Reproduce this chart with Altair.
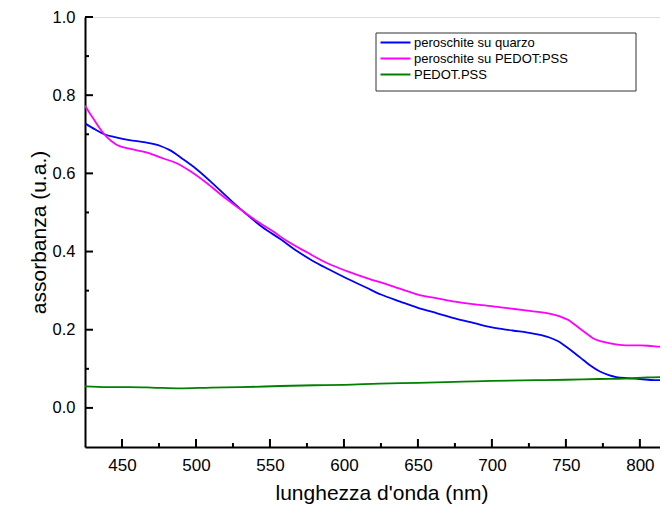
import altair as alt
import pandas as pd

# --- data ---
series_names = ["peroschite su quarzo", "peroschite su PEDOT:PSS", "PEDOT.PSS"]
series_colors = ["#0000FF", "#FF00FF", "#008000"]

nm_quarzo = [425, 432, 438, 446, 455, 466, 476, 482, 491, 500, 512, 523, 534, 545, 557,
             568, 579, 590, 602, 615, 625, 638, 650, 663, 675, 688, 700, 714, 728, 741,
             746, 750, 756, 762, 767, 773, 779, 784, 792, 800, 810, 818]
abs_quarzo = [0.728, 0.712, 0.700, 0.692, 0.685, 0.679, 0.670, 0.660, 0.637, 0.612, 0.572,
              0.533, 0.496, 0.462, 0.432, 0.402, 0.376, 0.354, 0.331, 0.308, 0.290, 0.272,
              0.256, 0.242, 0.229, 0.217, 0.206, 0.198, 0.190, 0.177, 0.168, 0.157, 0.140,
              0.122, 0.107, 0.093, 0.084, 0.079, 0.076, 0.074, 0.071, 0.071]

nm_pedot_su = [425, 428, 431, 435, 440, 446, 455, 467, 478, 487, 496, 507, 518, 530, 541,
               552, 561, 575, 590, 602, 617, 630, 650, 665, 675, 690, 705, 715, 728, 738,
               746, 752, 757, 763, 768, 774, 780, 790, 800, 806, 812, 818]
abs_pedot_su = [0.773, 0.755, 0.738, 0.715, 0.692, 0.674, 0.663, 0.653, 0.638, 0.626, 0.606,
                0.576, 0.542, 0.508, 0.478, 0.452, 0.428, 0.398, 0.368, 0.350, 0.330, 0.315,
                0.290, 0.279, 0.272, 0.264, 0.258, 0.253, 0.247, 0.242, 0.234, 0.224, 0.210,
                0.193, 0.179, 0.170, 0.165, 0.160, 0.160, 0.159, 0.157, 0.157]

nm_pedot = [425, 440, 455, 470, 489, 510, 530, 557, 580, 600, 624, 650, 680, 700, 730,
            750, 772, 790, 805, 818]
abs_pedot = [0.055, 0.053, 0.053, 0.052, 0.050, 0.052, 0.053, 0.056, 0.058, 0.059, 0.062,
             0.064, 0.067, 0.069, 0.071, 0.072, 0.074, 0.075, 0.078, 0.079]

x_major = [450, 500, 550, 600, 650, 700, 750, 800]
x_minor = [475, 525, 575, 625, 675, 725, 775]
y_major = [0.0, 0.2, 0.4, 0.6, 0.8, 1.0]
y_minor = [0.1, 0.3, 0.5, 0.7, 0.9]

x_domain = [425, 813.6]
y_domain = [-0.1, 1.0]

rows = []
for name, xs, ys in zip(series_names, [nm_quarzo, nm_pedot_su, nm_pedot],
                        [abs_quarzo, abs_pedot_su, abs_pedot]):
    for a, b in zip(xs, ys):
        rows.append({"nm": a, "abs": b, "serie": name})
df = pd.DataFrame(rows)

FONT = "Liberation Sans"
W, H = 575, 430

xscale = alt.Scale(domain=x_domain, nice=False, zero=False)
yscale = alt.Scale(domain=y_domain, nice=False, zero=False)

box = alt.Chart(pd.DataFrame({"k": [0]})).mark_rect(
    fill="white", stroke="#333333", strokeWidth=1
).encode(x=alt.value(291), x2=alt.value(551), y=alt.value(16), y2=alt.value(74))

lines = alt.Chart(df).mark_line(strokeWidth=1.8, clip=True, interpolate="monotone").encode(
    x=alt.X("nm:Q", scale=xscale,
            axis=alt.Axis(title="lunghezza d'onda (nm)", values=x_major, ticks=False,
                          tickSize=0, grid=False, domainColor="black", domainWidth=2,
                          labelFont=FONT, labelFontSize=17, labelColor="black",
                          labelBaseline="alphabetic", labelPadding=23, labelFlush=False,
                          titleFont=FONT, titleFontSize=21, titleFontWeight="normal",
                          titleColor="black", titleX=296.5, titleY=52,
                          titleBaseline="alphabetic", titleAlign="center")),
    y=alt.Y("abs:Q", scale=yscale,
            axis=alt.Axis(title="assorbanza (u.a.)", values=y_major, format=".1f",
                          ticks=False, tickSize=0, grid=False, domainColor="black",
                          domainWidth=2, labelFont=FONT, labelFontSize=16.5,
                          labelColor="black", labelPadding=10, labelFlush=False,
                          titleFont=FONT, titleFontSize=21, titleFontWeight="normal",
                          titleColor="black", titleAngle=270, titleX=-40, titleY=215,
                          titleBaseline="alphabetic", titleAlign="center")),
    color=alt.Color("serie:N",
                    scale=alt.Scale(domain=series_names, range=series_colors),
                    sort=series_names,
                    legend=alt.Legend(orient="none", legendX=304, legendY=19, title=None,
                                      symbolType="M-3,0H3", symbolSize=100,
                                      symbolStrokeWidth=2, labelFont=FONT,
                                      labelFontSize=13, labelColor="black",
                                      labelOffset=12, rowPadding=2, padding=0,
                                      labelLimit=300)),
)

def xticks(vals, length):
    return alt.Chart(pd.DataFrame({"nm": vals})).mark_rule(
        color="black", strokeWidth=2
    ).encode(x=alt.X("nm:Q", scale=xscale),
             y=alt.value(H), y2=alt.value(H - length))

def yticks(vals, length):
    return alt.Chart(pd.DataFrame({"abs": vals})).mark_rule(
        color="black", strokeWidth=2
    ).encode(y=alt.Y("abs:Q", scale=yscale),
             x=alt.value(0), x2=alt.value(length))

chart = alt.layer(
    box, lines, xticks(x_major, 8), xticks(x_minor, 4), yticks(y_major, 8), yticks(y_minor, 4)
).properties(
    width=W, height=H,
    autosize=alt.AutoSizeParams(type="none"),
    padding={"left": 77, "top": 9, "right": 0, "bottom": 57},
).configure_view(strokeWidth=0).configure(background="white")

chart.save("out.html", embed_options={"renderer": "svg", "actions": False})
